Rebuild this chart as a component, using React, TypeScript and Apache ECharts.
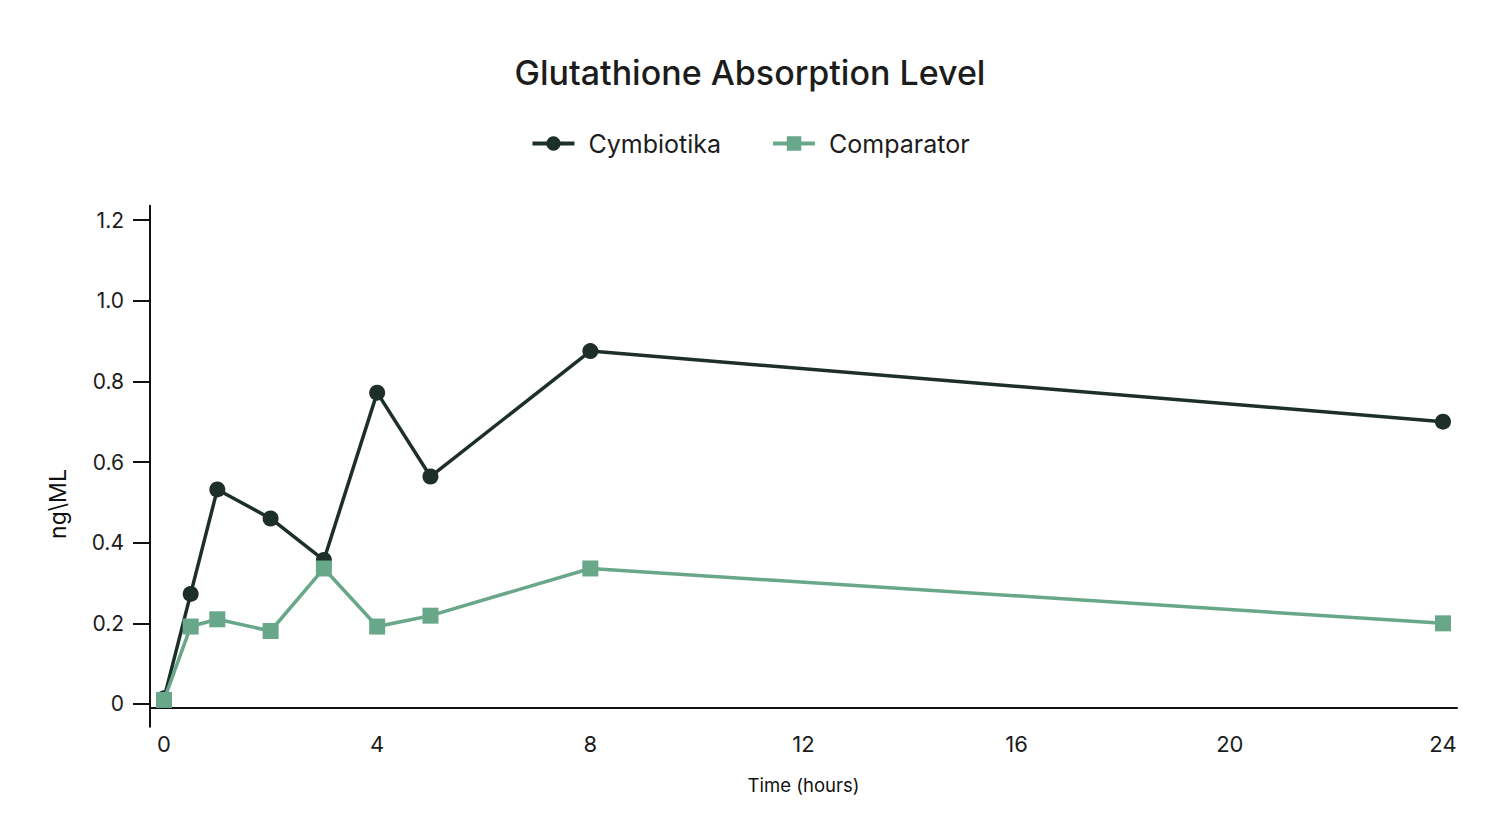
import React, { useEffect, useRef } from "react";
import * as echarts from "echarts";

const hours = [0, 0.5, 1, 2, 3, 4, 5, 8, 24];
const cymbiotika = [0.014, 0.273, 0.532, 0.46, 0.357, 0.772, 0.564, 0.875, 0.7];
const comparator = [0.01, 0.192, 0.21, 0.181, 0.336, 0.192, 0.219, 0.336, 0.2];
const xTicks = [0, 4, 8, 12, 16, 20, 24];
const yTicks = [0, 0.2, 0.4, 0.6, 0.8, 1.0, 1.2];

const DARK = "#1e2f29";
const GREEN = "#68a78a";
const FONT = "Inter, 'Noto Sans', sans-serif";

export default function App() {
  const ref = useRef<HTMLDivElement>(null);
  useEffect(() => {
    if (!ref.current) return;
    const chart = echarts.init(ref.current, null, { renderer: "svg" });
    chart.setOption({
      animation: false,
      backgroundColor: "#ffffff",
      title: {
        text: "Glutathione Absorption Level",
        left: "center",
        top: 42,
        textStyle: { fontFamily: FONT, fontSize: 34, fontWeight: 500, color: "#1c1c1c" },
      },
      legend: {
        top: 118,
        left: "center",
        itemWidth: 42,
        itemHeight: 18,
        itemGap: 50,
        lineStyle: { width: 4 },
        textStyle: { fontFamily: FONT, fontSize: 25, color: "#1c1c1c", padding: [0, 0, 0, 9] },
        data: ["Cymbiotika", "Comparator"],
      },
      graphic: [
        {
          type: "text",
          x: 50,
          y: 496,
          rotation: Math.PI / 2,
          style: {
            text: "ng\\ML",
            fontFamily: FONT,
            fontSize: 23,
            fill: "#111",
            align: "center",
            verticalAlign: "middle",
          },
        },
      ],
      grid: { left: 142, right: 35, top: 197.7, height: 521, containLabel: false },
      xAxis: {
        type: "value",
        min: -0.263,
        max: 24.263,
        name: "Time (hours)",
        nameLocation: "middle",
        nameGap: 49,
        nameTextStyle: { fontFamily: FONT, fontSize: 18.5, color: "#111" },
        axisLine: { show: true, onZero: true, onZeroAxisIndex: 1, lineStyle: { color: "#111", width: 2 } },
        axisTick: { show: false },
        splitLine: { show: false },
        axisLabel: {
          customValues: xTicks,
          margin: 6,
          fontFamily: FONT,
          fontSize: 22,
          color: "#1c1c1c",
        },
      },
      yAxis: [
        {
          type: "value",
          min: -0.0563,
          max: 1.2355,
          axisLine: { show: true, onZero: false, lineStyle: { color: "#111", width: 2 } },
          axisTick: { show: true, customValues: yTicks, length: 17, lineStyle: { color: "#111", width: 2 } },
          splitLine: { show: false },
          axisLabel: {
            customValues: yTicks,
            margin: 26,
            fontFamily: FONT,
            fontSize: 21,
            color: "#1c1c1c",
            formatter: (v: number) => (v === 0 ? "0" : v.toFixed(1)),
          },
        },
        {
          type: "value",
          min: -0.0468,
          max: 1.2355,
          show: false,
        },
      ],
      series: [
        {
          name: "Cymbiotika",
          type: "line",
          data: hours.map((h, i) => [h, cymbiotika[i]]),
          symbol: "circle",
          symbolSize: 16,
          lineStyle: { color: DARK, width: 3.5 },
          itemStyle: { color: DARK },
          color: DARK,
          z: 2,
        },
        {
          name: "Comparator",
          type: "line",
          data: hours.map((h, i) => [h, comparator[i]]),
          symbol: "rect",
          symbolSize: 16,
          lineStyle: { color: GREEN, width: 3.5 },
          itemStyle: { color: GREEN },
          color: GREEN,
          z: 3,
        },
      ],
    });
    return () => chart.dispose();
  }, []);
  return <div ref={ref} style={{ width: 1484, height: 817 }} />;
}
